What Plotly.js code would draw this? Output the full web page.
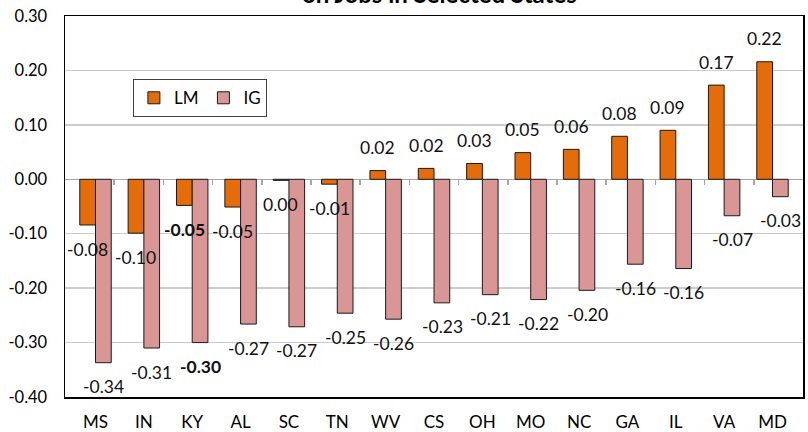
<!DOCTYPE html>
<html>
<head>
<meta charset="utf-8">
<script src="https://cdn.plot.ly/plotly-3.0.1.min.js"></script>
<style>html,body{margin:0;padding:0;background:#fff;}#chart{width:808px;height:432px;}</style>
</head>
<body>
<div id="chart"></div>
<script>
var states = ['MS','IN','KY','AL','SC','TN','WV','CS','OH','MO','NC','GA','IL','VA','MD'];
var lmValues = [-0.084,-0.099,-0.048,-0.051,-0.002,-0.009,0.016,0.020,0.029,0.049,0.055,0.079,0.090,0.173,0.216];
var igValues = [-0.337,-0.310,-0.300,-0.266,-0.271,-0.246,-0.257,-0.227,-0.212,-0.221,-0.204,-0.156,-0.164,-0.067,-0.032];
var boldStates = ['KY'];
var yTickVals = [-0.4,-0.3,-0.2,-0.1,0,0.1,0.2,0.3];
var yTickText = ['-0.40','-0.30','-0.20','-0.10','0.00','0.10','0.20','0.30'];
var titleText = 'on Jobs in Selected States';

var FONT = 'Lato, "Open Sans", sans-serif';
function fmt(v){ var s = v.toFixed(2); return s === '-0.00' ? '0.00' : s; }

var traces = [
  {type:'bar', name:'LM', x:states, y:lmValues, marker:{color:'#E46C0A', line:{color:'#1a1a1a', width:1}}, hoverinfo:'x+y'},
  {type:'bar', name:'IG', x:states, y:igValues, marker:{color:'#D99694', line:{color:'#1a1a1a', width:1}}, hoverinfo:'x+y'},
  {type:'scatter', x:states.map(function(_,i){return i;}), y:states.map(function(){return null;}), xaxis:'x2', yaxis:'y', showlegend:false, hoverinfo:'skip'}
];

var annotations = [];
function addLabels(vals, shift){
  vals.forEach(function(v,i){
    var t = fmt(v);
    if (boldStates.indexOf(states[i]) >= 0) t = '<b>' + t + '</b>';
    annotations.push({x:states[i], y:v, xref:'x', yref:'y', text:t, showarrow:false,
      xshift:shift, yshift:(v > 0 ? 23 : -24), yanchor:'middle', xanchor:'center',
      font:{family:FONT, size:17.5, color:'#111'}});
  });
}
addLabels(lmValues, -8);
addLabels(igValues, 8);
annotations.push({x:0.5, y:1, xref:'paper', yref:'paper', text:'<b>'+titleText+'</b>', showarrow:false,
  yanchor:'bottom', xanchor:'center', yshift:6, xshift:5, font:{family:FONT, size:24, color:'#000'}});

var layout = {
  width:808, height:432,
  margin:{l:65, r:5, t:16, b:35},
  paper_bgcolor:'#fff', plot_bgcolor:'#fff',
  font:{family:FONT, size:16.5, color:'#000'},
  barmode:'group', bargap:0.35, bargroupgap:0,
  showlegend:true,
  legend:{orientation:'h', x:0.092, y:0.834, xanchor:'left', yanchor:'top',
    bordercolor:'#404040', borderwidth:1, bgcolor:'#fff', font:{family:FONT, size:17},
    traceorder:'normal', itemwidth:30},
  xaxis:{type:'category', categoryorder:'array', categoryarray:states,
    showline:true, mirror:true, linecolor:'#000', linewidth:1.5,
    showgrid:false, ticks:'', ticklabelstandoff:9, tickfont:{family:FONT, size:17}},
  xaxis2:{overlaying:'x', anchor:'free', position:(0-(-0.4))/0.7, range:[-0.5, states.length-0.5],
    tickmode:'array', tickvals:states.slice(1).map(function(_,i){return i+0.5;}),
    ticks:'outside', ticklen:5, tickwidth:1.5, tickcolor:'#a6a6a6',
    showticklabels:false, showline:false, showgrid:false, zeroline:false, fixedrange:true},
  yaxis:{range:[-0.4,0.3], tickmode:'array', tickvals:yTickVals, ticktext:yTickText,
    showline:true, mirror:true, linecolor:'#000', linewidth:1.5,
    showgrid:true, gridcolor:'#cccccc', gridwidth:1.5,
    zeroline:true, zerolinecolor:'#a6a6a6', zerolinewidth:1.5,
    ticks:'', ticklabelstandoff:13, tickfont:{family:FONT, size:16.5}},
  annotations:annotations
};

Plotly.newPlot('chart', traces, layout, {displayModeBar:false, staticPlot:true});
</script>
</body>
</html>
